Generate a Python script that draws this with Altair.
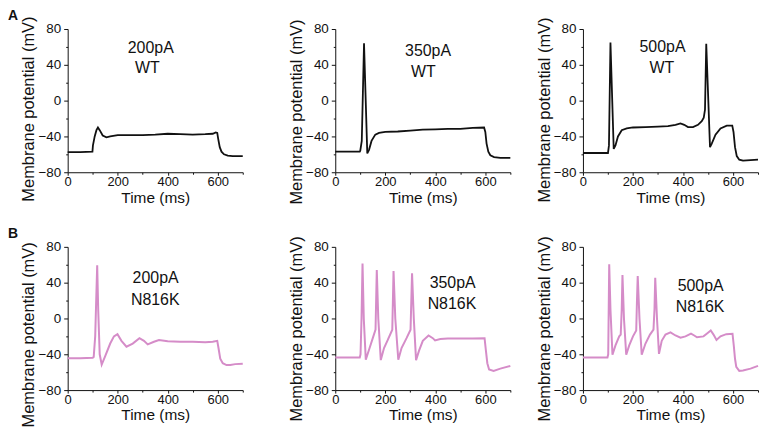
import altair as alt
import pandas as pd

# ---------------- data ----------------
# A: WT, 200 pA
wt200_t = [0, 50, 99, 101, 108, 115, 121, 128, 140, 155, 170, 200, 250, 300, 350, 400,
           450, 500, 550, 580, 592, 598, 602, 608, 615, 625, 640, 660, 700]
wt200_v = [-57.5, -57.5, -57, -50, -40, -33, -30, -33, -39, -41, -40, -38.5, -38.5, -38.5,
           -38, -37, -37.5, -38, -37.5, -37, -35.5, -36, -43, -52, -57, -60, -61.5, -62, -62]

# A: WT, 350 pA
wt350_t = [0, 50, 98, 100, 106, 115, 128, 135, 145, 160, 175, 200, 250, 300, 350, 400,
           450, 500, 550, 595, 600, 605, 612, 620, 635, 660, 700]
wt350_v = [-57, -57, -57, -56, -45, 64, -59, -55, -45, -38, -36, -35, -34.5, -33.5, -32.5,
           -32, -31.5, -31.5, -30.5, -30, -35, -48, -57, -61, -63, -64, -64]

# A: WT, 500 pA
wt500_t = [0, 50, 100, 104, 110, 123, 130, 140, 155, 175, 200, 250, 300, 340, 370, 390,
           405, 420, 440, 460, 475, 483, 488, 493, 508, 515, 530, 550, 575, 597, 602, 608,
           615, 625, 640, 670, 700]
wt500_v = [-58.5, -58.5, -58.5, -50, 65, -54, -50, -40, -33, -31, -30, -29.5, -29, -28.5,
           -27, -25.5, -27, -29.5, -29.5, -27, -23, -19, -10, 63.5, -52, -48, -38, -31,
           -28, -28, -35, -52, -62, -66, -67, -66.5, -66]

# B: N816K, 200 pA
mu200_t = [0, 50, 100, 104, 110, 114, 118, 122, 128, 136, 150, 170, 185, 199, 215, 235,
           260, 287, 305, 320, 345, 365, 400, 450, 500, 550, 580, 598, 603, 610, 620, 635,
           650, 670, 700]
mu200_v = [-44.5, -44.5, -44, -43, -20, 20, 59.5, 10, -40, -51.5, -42, -28, -20, -17.5,
           -25, -31.5, -28, -22, -25, -29, -26, -24, -25.5, -26, -26, -26.5, -26, -25, -33,
           -45, -50, -52, -52, -51, -50.5]

# B: N816K, 350 pA
mu350_t = [0, 50, 98, 101, 105, 109, 114, 122, 135, 150, 161, 166, 172, 182, 195, 210,
           228, 233, 240, 252, 265, 285, 301, 307, 314, 323, 335, 350, 373, 390, 399, 420,
           450, 500, 550, 597, 602, 608, 615, 633, 660, 700]
mu350_v = [-43.5, -43.5, -43.5, -40, 0, 61.5, 0, -46, -35, -22, -12.5, 54, 0, -46.5, -33,
           -24, -12.5, 53, 0, -46, -33, -22, -12.5, 50.5, 0, -46.5, -36, -25, -19, -22,
           -24.5, -23, -22.5, -22.5, -22.5, -22, -35, -50, -57, -58.5, -56, -53]

# B: N816K, 500 pA
mu500_t = [0, 50, 98, 101, 105, 110, 118, 130, 145, 151, 155, 158, 164, 173, 185, 200,
           213, 216, 219, 226, 235, 250, 268, 282, 286, 289, 296, 304, 315, 330, 350, 370,
           390, 410, 432, 445, 456, 482, 500, 511, 522, 534, 550, 573, 598, 603, 608, 613,
           625, 640, 670, 700]
mu500_v = [-43.5, -43.5, -43.5, -40, 60.5, 10, -40.5, -30, -20, -18, 10, 48.5, 0, -40.5,
           -30, -20, -13.5, 20, 47.5, 0, -40.5, -28, -18, -12.5, 10, 45.5, 0, -39.5, -25,
           -18, -15.5, -19, -21.5, -20, -17, -19, -21, -20, -16, -13.5, -18, -24, -20,
           -17.5, -17, -30, -45, -54, -58.5, -58, -56, -53]

currents = ["200pA", "350pA", "500pA"]
genotypes = ["WT", "N816K"]
panel_letters = ["A", "B"]

y_ticks = [-80, -60, -40, -20, 0, 20, 40, 60, 80]
x_ticks = [0, 100, 200, 300, 400, 500, 600, 700]

# ---------------- styling ----------------
FONT = "Liberation Sans"
BLACK = "#111111"
PINK = "#d58cc8"
W, H = 176, 144


def make_panel(t, v, color, cur, geno, p1, p2, title_y, letter=None):
    df = pd.DataFrame({"t": t, "v": v})
    x = alt.X("t:Q", scale=alt.Scale(domain=[0, 700], nice=False, zero=False),
              axis=alt.Axis(title="Time (ms)", values=x_ticks,
                            labelExpr="datum.value % 200 == 0 ? datum.label : ''",
                            tickSize={"condition": {"test": "datum.value % 200 != 0", "value": 2}, "value": 3},
                            labelFlush=False, labelOverlap=False, labelPadding=0,
                            labelFontSize=13, titlePadding=2, titleFontSize=15.5))
    y = alt.Y("v:Q", scale=alt.Scale(domain=[-80, 80], nice=False, zero=False),
              axis=alt.Axis(title="Membrane potential (mV)", values=y_ticks,
                            labelExpr="datum.value % 40 == 0 ? datum.label : ''",
                            tickSize={"condition": {"test": "datum.value % 40 != 0", "value": 2}, "value": 4},
                            labelOverlap=False, labelPadding=3, titlePadding=1,
                            labelFontSize=13.5, titleFontSize=16.5, titleY=title_y))
    line = alt.Chart(df).mark_line(color=color, strokeWidth=1.8 if color == BLACK else 2.0).encode(x=x, y=y)
    t1 = alt.Chart(pd.DataFrame({"s": [cur]})).mark_text(
        font=FONT, fontSize=16, color="#111111", align="center", baseline="middle"
    ).encode(text="s:N", x=alt.value(p1[0]), y=alt.value(p1[1]))
    t2 = alt.Chart(pd.DataFrame({"s": [geno]})).mark_text(
        font=FONT, fontSize=16, color="#111111", align="center", baseline="middle"
    ).encode(text="s:N", x=alt.value(p2[0]), y=alt.value(p2[1]))
    layers = [line, t1, t2]
    if letter is not None:
        lt = alt.Chart(pd.DataFrame({"s": [letter]})).mark_text(
            font=FONT, fontSize=14, fontWeight="bold", color="#111111",
            align="left", baseline="top"
        ).encode(text="s:N", x=alt.value(-60), y=alt.value(-20))
        layers.append(lt)
    return alt.layer(*layers).properties(width=W, height=H)


p1 = make_panel(wt200_t, wt200_v, BLACK, currents[0], genotypes[0], (83.5, 19.5), (80, 39.5), 80, panel_letters[0])
p2 = make_panel(wt350_t, wt350_v, BLACK, currents[1], genotypes[0], (93.3, 22), (88.6, 43), 83)
p3 = make_panel(wt500_t, wt500_v, BLACK, currents[2], genotypes[0], (80, 18), (79.3, 39.3), 81)
p4 = make_panel(mu200_t, mu200_v, PINK, currents[0], genotypes[1], (88.4, 31.5), (88, 53.5), 88, panel_letters[1])
p5 = make_panel(mu350_t, mu350_v, PINK, currents[1], genotypes[1], (118, 36), (117.3, 57.3), 82)
p6 = make_panel(mu500_t, mu500_v, PINK, currents[2], genotypes[1], (118.3, 39), (117.7, 60.8), 82)

row1 = alt.hconcat(alt.hconcat(p1, p2, spacing=42), p3, spacing=22)
row2 = alt.hconcat(alt.hconcat(p4, p5, spacing=42), p6, spacing=22)

chart = alt.vconcat(row1, row2, spacing=21).properties(
    padding={"left": 0, "top": 0, "right": 0, "bottom": 0}
).configure_view(stroke=None).configure_axis(
    grid=False, domainColor="#111111", tickColor="#111111", labelColor="#111111",
    titleColor="#111111", labelFont=FONT, titleFont=FONT,
    titleFontWeight="normal", domainWidth=1, tickWidth=1
)

chart.save("out.html", embed_options={"renderer": "svg", "actions": False})
